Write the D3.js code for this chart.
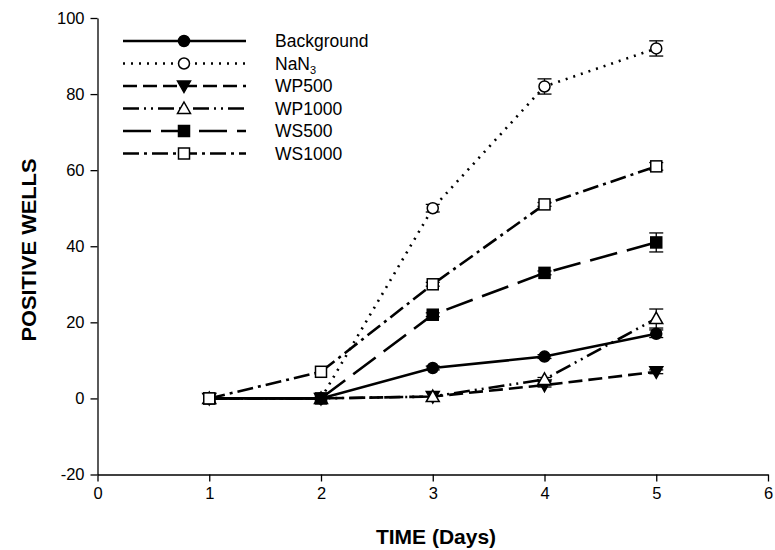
<!DOCTYPE html>
<html>
<head>
<meta charset="utf-8">
<script src="https://cdn.jsdelivr.net/npm/d3@7"></script>
<style>
body{margin:0;background:#fff;}
text{font-family:"Liberation Sans",Arial,sans-serif;}
</style>
</head>
<body>
<svg id="chart" width="775" height="550"></svg>
<script>
const days = [1, 2, 3, 4, 5];
const seriesNames = ["Background", "NaN3", "WP500", "WP1000", "WS500", "WS1000"];
const background = [0, 0, 8, 11, 17];
const nan3 = [0, 0, 50, 82, 92];
const wp500 = [0, 0, 0.5, 3.5, 7];
const wp1000 = [0, 0, 0.5, 5, 21];
const ws500 = [0, 0, 22, 33, 41];
const ws1000 = [0, 7, 30, 51, 61];
const backgroundErr = [0, 0, 0.5, 0.5, 1];
const nan3Err = [0, 0, 1, 2, 2];
const wp500Err = [0, 0, 0, 0.5, 0.5];
const wp1000Err = [0, 0, 0, 0.5, 2.5];
const ws500Err = [0, 0, 0.5, 0.5, 2.5];
const ws1000Err = [0, 0, 0.5, 0.5, 1];
const xTicks = [0, 1, 2, 3, 4, 5, 6];
const yTicks = [-20, 0, 20, 40, 60, 80, 100];

const styles = [
  {dash: null, marker: "circle", fill: "#000"},
  {dash: "2,6", marker: "circle", fill: "#fff"},
  {dash: "14,6", marker: "triDown", fill: "#000"},
  {dash: "16,5,2,5,2,5", marker: "triUp", fill: "#fff"},
  {dash: "28,10", marker: "square", fill: "#000"},
  {dash: "16,5,3,5", marker: "square", fill: "#fff"}
];
const values = [background, nan3, wp500, wp1000, ws500, ws1000];
const errs = [backgroundErr, nan3Err, wp500Err, wp1000Err, ws500Err, ws1000Err];

const svg = d3.select("#chart");
const x = d3.scaleLinear().domain([0, 6]).range([97.5, 768]);
const y = d3.scaleLinear().domain([-20, 100]).range([474.5, 18]);
const fmt = d => String(d);

const xAxis = svg.append("g").attr("transform", `translate(0,${y(-20)})`)
  .call(d3.axisBottom(x).tickValues(xTicks).tickFormat(fmt).tickSizeOuter(0).tickSizeInner(7).tickPadding(6));
const yAxis = svg.append("g").attr("transform", `translate(${x(0)},0)`)
  .call(d3.axisLeft(y).tickValues(yTicks).tickFormat(fmt).tickSizeOuter(0).tickSizeInner(7).tickPadding(6));
[xAxis, yAxis].forEach(a => {
  a.selectAll("path.domain").attr("stroke", "#000").attr("stroke-width", 1.3);
  a.selectAll("line").attr("stroke", "#000").attr("stroke-width", 1.3);
  a.selectAll("text").attr("font-size", 16.5).attr("fill", "#000")
   .style("font-family", "'Liberation Sans', Arial, sans-serif");
});

svg.append("text").attr("x", 436).attr("y", 544).attr("text-anchor", "middle")
  .attr("font-size", 21).attr("font-weight", "bold").text("TIME (Days)");
svg.append("text").attr("transform", `translate(36,250) rotate(-90)`)
  .attr("text-anchor", "middle").attr("font-size", 21).attr("font-weight", "bold")
  .attr("textLength", 183).attr("lengthAdjust", "spacingAndGlyphs").text("POSITIVE WELLS");

function drawMarker(g, type, cx, cy, fill) {
  if (type === "circle") {
    g.append("circle").attr("cx", cx).attr("cy", cy).attr("r", 5.5)
      .attr("fill", fill).attr("stroke", "#000").attr("stroke-width", 1.5);
  } else if (type === "square") {
    g.append("rect").attr("x", cx - 5.5).attr("y", cy - 5.5).attr("width", 11).attr("height", 11)
      .attr("fill", fill).attr("stroke", "#000").attr("stroke-width", 1.5);
  } else if (type === "triUp") {
    g.append("path").attr("d", `M${cx},${cy - 6.5}L${cx + 6.5},${cy + 5}L${cx - 6.5},${cy + 5}Z`)
      .attr("fill", fill).attr("stroke", "#000").attr("stroke-width", 1.5);
  } else {
    g.append("path").attr("d", `M${cx},${cy + 6.5}L${cx + 6.5},${cy - 5}L${cx - 6.5},${cy - 5}Z`)
      .attr("fill", fill).attr("stroke", "#000").attr("stroke-width", 1.5);
  }
}

const line = d3.line().x((d, i) => x(days[i])).y(d => y(d));
const plot = svg.append("g");
values.forEach((vals, s) => {
  plot.append("path").attr("d", line(vals)).attr("fill", "none").attr("stroke", "#000")
    .attr("stroke-width", 2.6).attr("stroke-dasharray", styles[s].dash);
});
values.forEach((vals, s) => {
  vals.forEach((v, i) => {
    const e = errs[s][i];
    const cx = x(days[i]);
    if (e > 0) {
      const g = plot.append("g").attr("stroke", "#000").attr("stroke-width", 1.3);
      g.append("line").attr("x1", cx).attr("x2", cx).attr("y1", y(v - e)).attr("y2", y(v + e));
      g.append("line").attr("x1", cx - 7).attr("x2", cx + 7).attr("y1", y(v - e)).attr("y2", y(v - e));
      g.append("line").attr("x1", cx - 7).attr("x2", cx + 7).attr("y1", y(v + e)).attr("y2", y(v + e));
    }
    drawMarker(plot, styles[s].marker, cx, y(v), styles[s].fill);
  });
});

// Legend
const leg = svg.append("g");
seriesNames.forEach((name, s) => {
  const ly = 41 + s * 22.5;
  leg.append("line").attr("x1", 123).attr("x2", 246).attr("y1", ly).attr("y2", ly)
    .attr("stroke", "#000").attr("stroke-width", 2.6).attr("stroke-dasharray", styles[s].dash);
  drawMarker(leg, styles[s].marker, 184, ly, styles[s].fill);
  const t = leg.append("text").attr("x", 275).attr("y", ly + 6).attr("font-size", 17.5);
  if (name === "NaN3") {
    t.append("tspan").text("NaN");
    t.append("tspan").attr("font-size", 11).attr("dy", 4).text("3");
  } else {
    t.text(name);
  }
});
</script>
</body>
</html>
